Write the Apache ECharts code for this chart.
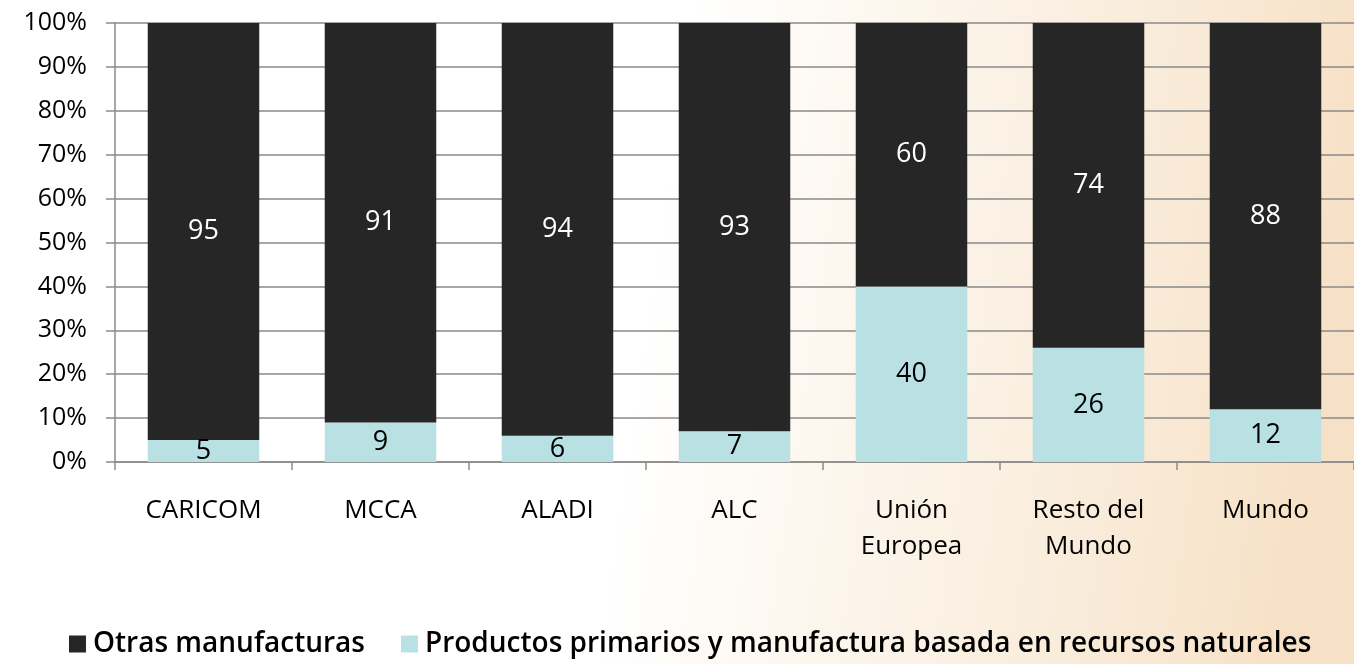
<!DOCTYPE html>
<html><head><meta charset="utf-8">
<script src="https://cdn.jsdelivr.net/npm/echarts@6/dist/echarts.min.js"></script>
<style>html,body{margin:0;padding:0;}#c{width:1354px;height:664px;}</style>
</head><body><div id="c"></div>
<script>
const categories = ['CARICOM','MCCA','ALADI','ALC','Unión\nEuropea','Resto del\nMundo','Mundo'];
const primarios = [5,9,6,7,40,26,12];
const otras = [95,91,94,93,60,74,88];
const yTicks = [0,10,20,30,40,50,60,70,80,90,100];
const seriesNames = ['Otras manufacturas','Productos primarios y manufactura basada en recursos naturales'];

const font = '"Open Sans", Lato, sans-serif';
const chart = echarts.init(document.getElementById('c'));
chart.setOption({
  backgroundColor: new echarts.graphic.LinearGradient(0,0,1,0.3,[
    {offset:0,color:'#ffffff'},{offset:0.5,color:'#ffffff'},{offset:0.62,color:'#fdf8f1'},{offset:0.85,color:'#f9ebd9'},{offset:1,color:'#f7e1c6'}
  ]),
  textStyle:{fontFamily:font},
  grid:{left:115,top:23,width:1246,height:439,containLabel:false},
  legend:{
    bottom:1,left:64,itemWidth:17,itemHeight:17,itemGap:36,
    icon:'rect',
    data:seriesNames,
    textStyle:{fontSize:28,fontWeight:600,color:'#000',fontFamily:font,padding:[0,0,0,2]}
  },
  xAxis:{
    type:'category',data:categories,
    axisLine:{lineStyle:{color:'#8a8a8a',width:1.5}},
    axisTick:{show:true,length:8,lineStyle:{color:'#8a8a8a',width:1.5}},
    axisLabel:{fontSize:26,color:'#000',margin:31,lineHeight:36,fontFamily:font}
  },
  yAxis:{
    type:'value',min:0,max:100,interval:10,
    axisLine:{show:true,lineStyle:{color:'#8a8a8a',width:1.5}},
    axisTick:{show:true,length:9,lineStyle:{color:'#8a8a8a',width:1.5}},
    splitLine:{show:true,lineStyle:{color:'#8a8a8a',width:1.5}},
    axisLabel:{fontSize:25,color:'#000',margin:28,fontFamily:font,
      formatter:v=>yTicks.includes(v)?v+'%':''}
  },
  series:[
    {name:seriesNames[1],type:'bar',stack:'s',data:primarios,barWidth:'63%',
      itemStyle:{color:'#b9e0e3'},
      label:{show:true,position:'inside',color:'#000',fontSize:27,fontWeight:500,fontFamily:font}},
    {name:seriesNames[0],type:'bar',stack:'s',data:otras,barWidth:'63%',
      itemStyle:{color:'#262626'},
      label:{show:true,position:'inside',color:'#fff',fontSize:27,fontWeight:500,fontFamily:font}}
  ]
});
</script></body></html>
